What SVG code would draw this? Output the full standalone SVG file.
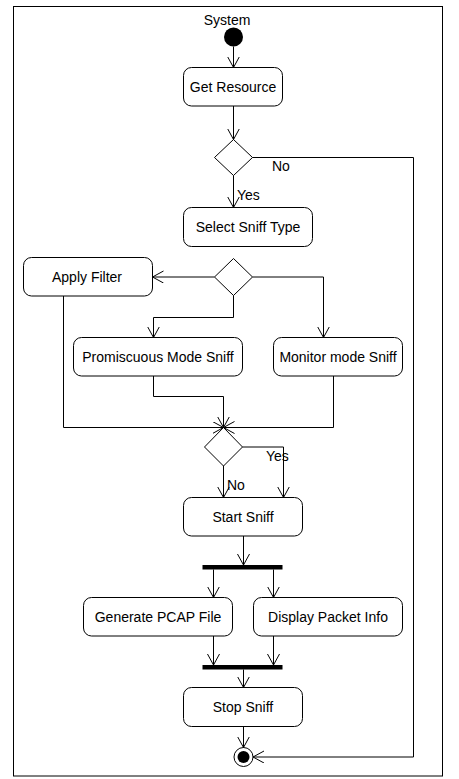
<svg xmlns="http://www.w3.org/2000/svg" width="459" height="779" viewBox="0 0 459 779">
<style>
.frame{fill:#fff;stroke:#000;stroke-width:1}
.act{fill:#fff;stroke:#000;stroke-width:1}
.dec{fill:#fff;stroke:#000;stroke-width:1}
.bar{fill:#000}
.lbl{font-family:"Liberation Sans",Arial,sans-serif;font-size:14px;fill:#000;text-anchor:middle}
.edge{font-family:"Liberation Sans",Arial,sans-serif;font-size:14px;fill:#000}
.conn{fill:none;stroke:#000;stroke-width:1;marker-end:url(#arr)}
</style>
<defs>
<marker id="arr" markerUnits="userSpaceOnUse" markerWidth="14" markerHeight="14" refX="11" refY="6" orient="auto">
<path d="M0,0 L11,6 L0,12" fill="none" stroke="#000" stroke-width="1"/>
</marker>
</defs>
<rect class="frame" x="13.5" y="6.5" width="429" height="769.5"/>
<text class="lbl" x="227" y="25">System</text>
<g id="start"><circle cx="233.5" cy="37" r="9.5" fill="#000"/></g>
<g id="getResource"><rect class="act" x="183.5" y="67.5" width="99" height="38.5" rx="8"/><text class="lbl" x="233" y="92">Get Resource</text></g>
<g id="decision1"><polygon class="dec" points="233.5,139.5 252.5,157.5 233.5,175.5 214.5,157.5"/></g>
<g id="selectSniffType"><rect class="act" x="183.5" y="207.5" width="129" height="39" rx="8"/><text class="lbl" x="248" y="232">Select Sniff Type</text></g>
<g id="decision2"><polygon class="dec" points="233.5,258.5 252.5,277 233.5,295.5 214.5,277"/></g>
<g id="applyFilter"><rect class="act" x="23.5" y="257.5" width="129" height="38.5" rx="8"/><text class="lbl" x="87" y="282">Apply Filter</text></g>
<g id="promiscuous"><rect class="act" x="73.5" y="337.5" width="169" height="38.5" rx="8"/><text class="lbl" x="158" y="362">Promiscuous Mode Sniff</text></g>
<g id="monitor"><rect class="act" x="273.5" y="337.5" width="129" height="38.5" rx="8"/><text class="lbl" x="338" y="362">Monitor mode Sniff</text></g>
<g id="decision3"><polygon class="dec" points="223.5,427.5 242.5,447 223.5,466 204.5,447"/></g>
<g id="startSniff"><rect class="act" x="183.5" y="497.5" width="119" height="38.5" rx="8"/><text class="lbl" x="243" y="522">Start Sniff</text></g>
<g id="fork"><rect class="bar" x="202.5" y="565" width="80" height="4.5"/></g>
<g id="generatePcap"><rect class="act" x="83.5" y="597.5" width="149" height="38.5" rx="8"/><text class="lbl" x="158" y="622">Generate PCAP File</text></g>
<g id="displayPacket"><rect class="act" x="253.5" y="597.5" width="149" height="38.5" rx="8"/><text class="lbl" x="328" y="622">Display Packet Info</text></g>
<g id="join"><rect class="bar" x="202.5" y="665" width="80" height="4.5"/></g>
<g id="stopSniff"><rect class="act" x="183.5" y="687.5" width="119" height="39" rx="8"/><text class="lbl" x="243" y="712">Stop Sniff</text></g>
<g id="final"><circle cx="243.5" cy="757" r="9.5" fill="#fff" stroke="#000" stroke-width="1"/><circle cx="243.5" cy="757" r="6" fill="#000"/></g>
<g id="connectors">
<path class="conn" d="M233.5,46.5 L233.5,67.5"/>
<path class="conn" d="M233.5,106 L233.5,139.5"/>
<path class="conn" d="M252.5,157.5 L413.5,157.5 L413.5,757 L253,757"/>
<path class="conn" d="M233.5,175.5 L233.5,207.5"/>
<path class="conn" d="M214.5,277 L152.5,277"/>
<path class="conn" d="M252.5,277 L323.5,277 L323.5,337.5"/>
<path class="conn" d="M233.5,295.5 L233.5,317.5 L153.5,317.5 L153.5,337.5"/>
<path class="conn" d="M63.5,296 L63.5,427.5 L223.5,427.5"/>
<path class="conn" d="M153.5,376 L153.5,396.5 L223.5,396.5 L223.5,427.5"/>
<path class="conn" d="M333.5,376 L333.5,427.5 L223.5,427.5"/>
<path class="conn" d="M223.5,466 L223.5,497.5"/>
<path class="conn" d="M242.5,447 L283.5,447 L283.5,497.5"/>
<path class="conn" d="M243.5,536 L243.5,565"/>
<path class="conn" d="M213.5,569.5 L213.5,597.5"/>
<path class="conn" d="M273.5,569.5 L273.5,597.5"/>
<path class="conn" d="M213.5,636 L213.5,665"/>
<path class="conn" d="M273.5,636 L273.5,665"/>
<path class="conn" d="M243.5,669.5 L243.5,687.5"/>
<path class="conn" d="M243.5,726.5 L243.5,747.5"/>
<text class="edge" x="272" y="171">No</text>
<text class="edge" x="237" y="200">Yes</text>
<text class="edge" x="266" y="461">Yes</text>
<text class="edge" x="227" y="490">No</text>
</g>
</svg>
